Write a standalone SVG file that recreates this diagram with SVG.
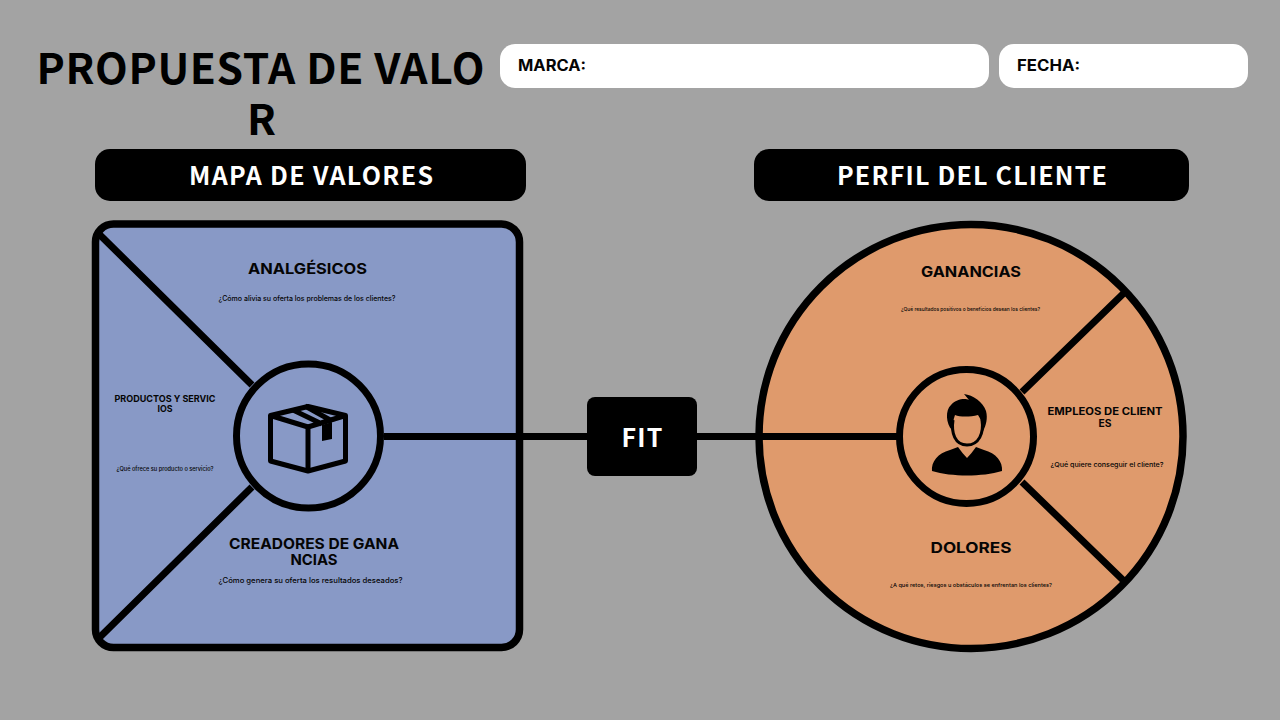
<svg xmlns="http://www.w3.org/2000/svg" width="1280" height="720" viewBox="0 0 1280 720">
<style>
.c{text-anchor:middle}
.t{font-family:"Noto Sans CJK SC","Noto Sans",sans-serif;font-weight:700}
.m{font-family:Inter,"Liberation Sans",sans-serif;fill:#050505}
.h{font-weight:700}
.q{font-weight:500}
.ln{stroke:#000;stroke-width:7;fill:none}
</style>
<rect width="1280" height="720" fill="#a3a3a3"/>
<g id="title"><text class="t c" x="260.500" y="84" font-size="42.500" fill="#000" textLength="448">PROPUESTA DE VALO</text><text class="t c" x="261.500" y="135" font-size="42.500" fill="#000">R</text></g>
<g id="marca"><rect x="500" y="44" width="489" height="44" rx="15" fill="#fff"/><text class="m h" x="518" y="71" font-size="15.500" textLength="68" lengthAdjust="spacingAndGlyphs">MARCA:</text></g>
<g id="fecha"><rect x="999" y="44" width="249" height="44" rx="15" fill="#fff"/><text class="m h" x="1017" y="71" font-size="15.500" textLength="63" lengthAdjust="spacingAndGlyphs">FECHA:</text></g>
<g id="mapa-header"><rect x="95" y="149" width="431" height="52" rx="15" fill="#000"/><text class="t c" x="311" y="185" font-size="25" fill="#fff" textLength="244">MAPA DE VALORES</text></g>
<g id="perfil-header"><rect x="754" y="149" width="435" height="52" rx="15" fill="#000"/><text class="t c" x="972" y="185" font-size="25" fill="#fff" textLength="270">PERFIL DEL CLIENTE</text></g>
<g id="mapa"><rect x="95.500" y="224" width="424" height="423.500" rx="18" fill="#8899c6" stroke="#000" stroke-width="7.500"/>
<path class="ln" d="M100 235 252 385M100 637 252 487"/></g>
<g id="perfil"><circle cx="971" cy="436.500" r="212" fill="#df9a6c" stroke="#000" stroke-width="7.500"/>
<path class="ln" d="M1022 392 1125 292M1022 482 1125 582"/></g>
<g id="connectors"><path class="ln" d="M384 436.500H587M697 436.500H897"/></g>
<g id="centro-mapa"><circle cx="308.500" cy="436" r="72" fill="#8899c6" stroke="#000" stroke-width="7"/>
<g fill="none" stroke="#000" stroke-width="5" stroke-linejoin="round"><path d="M270.500 415.500 308 406.500 345.500 415.500V461L308 471 270.500 461Z"/><path d="M270.500 415.500 308 427 345.500 415.500M308 427V471M293 410 322 424M305 406 332 421"/></g><path d="M322 425 332 422V439L322 441Z" fill="#000"/></g>
<g id="centro-perfil"><circle cx="966.500" cy="436.500" r="67" fill="#df9a6c" stroke="#000" stroke-width="7"/>
<path d="M932 471C931 462 938 453 950 450L958 447C961 451 964 455 967 458 970 455 973 451 976 447L984 450C996 453 1003 462 1002 471 982 477 952 477 932 471Z" fill="#000"/>
<path d="M953 420C951 433 955 445 967 445 979 445 984 433 982 420" fill="none" stroke="#000" stroke-width="3"/>
<path d="M952 430C946 424 945 410 951 405 956 399 965 398 969 400L964 394C973 395 983 402 986 411 988 418 986 426 983 431 982 424 981 419 978 415 970 417 960 417 955 415 953 420 953 425 952 430Z" fill="#000"/></g>
<g id="fit"><rect x="587" y="397" width="110" height="79" rx="8" fill="#000"/><text class="t c" x="642" y="447" font-size="25" fill="#fff" textLength="41">FIT</text></g>
<g id="analgesicos"><text class="m h c" x="307.500" y="274" font-size="14.500" textLength="119" lengthAdjust="spacingAndGlyphs">ANALGÉSICOS</text><text class="m q c" x="307" y="301" font-size="7" textLength="177" lengthAdjust="spacingAndGlyphs">¿Cómo alivia su oferta los problemas de los clientes?</text></g>
<g id="productos"><text class="m h c" x="165" y="402" font-size="9" textLength="101" lengthAdjust="spacingAndGlyphs">PRODUCTOS Y SERVIC</text><text class="m h c" x="165" y="412" font-size="9" textLength="15" lengthAdjust="spacingAndGlyphs">IOS</text><text class="m q c" x="165" y="471" font-size="5.500" textLength="97" lengthAdjust="spacingAndGlyphs">¿Qué ofrece su producto o servicio?</text></g>
<g id="creadores"><text class="m h c" x="314" y="549" font-size="14.500" textLength="170" lengthAdjust="spacingAndGlyphs">CREADORES DE GANA</text><text class="m h c" x="314" y="565" font-size="14.500" textLength="47" lengthAdjust="spacingAndGlyphs">NCIAS</text><text class="m q c" x="310.500" y="583" font-size="7.300" textLength="184" lengthAdjust="spacingAndGlyphs">¿Cómo genera su oferta los resultados deseados?</text></g>
<g id="ganancias"><text class="m h c" x="971" y="277" font-size="14.500" textLength="100" lengthAdjust="spacingAndGlyphs">GANANCIAS</text><text class="m q c" x="970.500" y="311" font-size="5" textLength="139" lengthAdjust="spacingAndGlyphs">¿Qué resultados positivos o beneficios desean los clientes?</text></g>
<g id="empleos"><text class="m h c" x="1105" y="415" font-size="10" textLength="115" lengthAdjust="spacingAndGlyphs">EMPLEOS DE CLIENT</text><text class="m h c" x="1105" y="427" font-size="10" textLength="13" lengthAdjust="spacingAndGlyphs">ES</text><text class="m q c" x="1107" y="467" font-size="6.800" textLength="113" lengthAdjust="spacingAndGlyphs">¿Qué quiere conseguir el cliente?</text></g>
<g id="dolores"><text class="m h c" x="971" y="553" font-size="14.500" textLength="81" lengthAdjust="spacingAndGlyphs">DOLORES</text><text class="m q c" x="971" y="587" font-size="5.300" textLength="162" lengthAdjust="spacingAndGlyphs">¿A qué retos, riesgos u obstáculos se enfrentan los clientes?</text></g>
</svg>
